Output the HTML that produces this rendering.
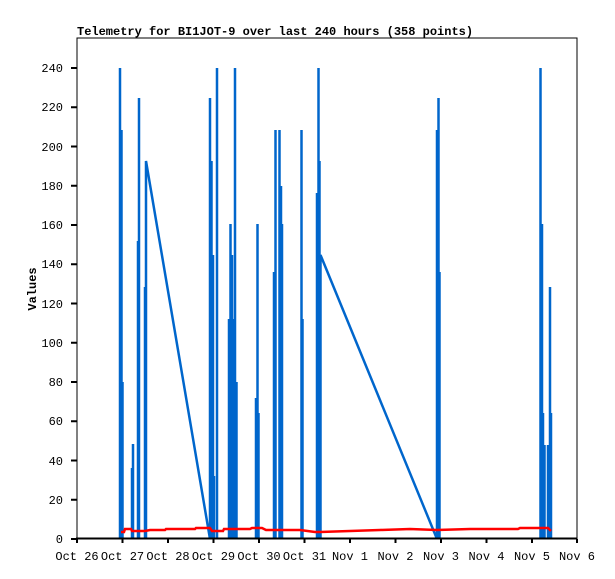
<!DOCTYPE html>
<html><head><style>body{margin:0;background:#fff}svg{display:block}</style></head><body>
<svg width="615" height="579" xmlns="http://www.w3.org/2000/svg" font-family="'Liberation Mono','DejaVu Sans Mono',monospace" font-size="12">
<rect x="0" y="0" width="615" height="579" fill="#fff"/>
<text x="77" y="35" font-weight="bold" font-size="12">Telemetry for BI1JOT-9 over last 240 hours (358 points)</text>
<rect x="77" y="38" width="500" height="501" fill="none" stroke="#000" stroke-width="1"/>
<g stroke="#0066cc" stroke-width="2.5" fill="none">
<path d="M120 539V68M121.5 539V130M122.5 539V382M133 539V444M132 539V468M138 539V241M139 539V98M145 539V287M146 539V161L210 539M210 539V98M211.5 539V161M213 539V255M214 539V476M217 539V68M229 539V319M230.5 539V224M232 539V255M233 539V319M234 539V382M235 539V68M236.5 539V382M256 539V398M257.5 539V224M258.5 539V413M274 539V272M275.5 539V130M279.5 539V130M281 539V186M282 539V224M301.5 539V130M302.5 539V319M317 539V193M318.5 539V68M319.5 539V161M320.5 539V255L437 539M437 539V130M438.5 539V98M439.5 539V272M540.5 539V68M542 539V224M543 539V413M544.5 539V445M548 539V445M550 539V287M551 539V413"/>
</g>
<polyline fill="none" stroke="#ff0000" stroke-width="2.5" points="121,532 124,532 125,529 131,529 132,531 145,531 150,530 165,530 166,529 195,529 196,528 210,528 212,531 223,531 224,529 250,529 252,528 262,528 266,530 290,530 300,530 315,532 320,532 350,531 380,530 410,529 437,530 470,529 500,529 518,529 520,528 548,528 551,531"/>
<line x1="76" y1="538.5" x2="577" y2="538.5" stroke="#000" stroke-width="2"/>
<g stroke="#000" stroke-width="2">
<path d="M77 539v4M122.5 539v4M168 539v4M213.5 539v4M259 539v4M304.5 539v4M350 539v4M395.5 539v4M441 539v4M486.5 539v4M532 539v4M577 539v4"/>
<path d="M71 539h6M71 499.75h6M71 460.5h6M71 421.25h6M71 382h6M71 342.75h6M71 303.5h6M71 264.25h6M71 225h6M71 185.75h6M71 146.5h6M71 107.25h6M71 68h6"/>
</g>
<g text-anchor="end">
<text x="63" y="543">0</text><text x="63" y="504">20</text><text x="63" y="465">40</text><text x="63" y="425">60</text><text x="63" y="386">80</text><text x="63" y="347">100</text><text x="63" y="308">120</text><text x="63" y="268">140</text><text x="63" y="229">160</text><text x="63" y="190">180</text><text x="63" y="151">200</text><text x="63" y="111">220</text><text x="63" y="72">240</text>
</g>
<g text-anchor="middle">
<text x="77" y="560">Oct 26</text><text x="122.5" y="560">Oct 27</text><text x="168" y="560">Oct 28</text><text x="213.5" y="560">Oct 29</text><text x="259" y="560">Oct 30</text><text x="304.5" y="560">Oct 31</text><text x="350" y="560">Nov 1</text><text x="395.5" y="560">Nov 2</text><text x="441" y="560">Nov 3</text><text x="486.5" y="560">Nov 4</text><text x="532" y="560">Nov 5</text><text x="577" y="560">Nov 6</text>
</g>
<text x="36" y="289" font-weight="bold" text-anchor="middle" transform="rotate(-90 36 289)">Values</text>
</svg>
</body></html>
